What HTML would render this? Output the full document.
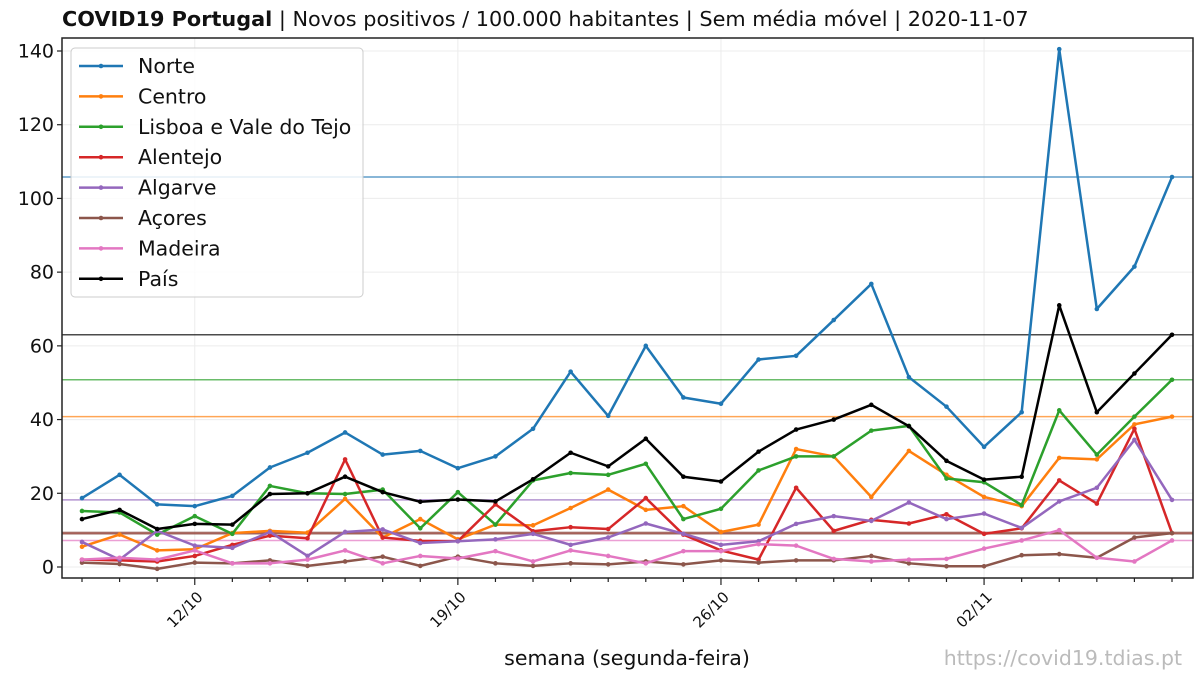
<!DOCTYPE html>
<html><head><meta charset="utf-8"><style>
body{margin:0;background:#fff}
svg{display:block;font-family:"DejaVu Sans","Liberation Sans",sans-serif}
</style></head><body>
<svg id="c" width="1200" height="675" xmlns="http://www.w3.org/2000/svg"></svg>
<script>
const dates=["09/10","10/10","11/10","12/10","13/10","14/10","15/10","16/10","17/10","18/10","19/10","20/10","21/10","22/10","23/10","24/10","25/10","26/10","27/10","28/10","29/10","30/10","31/10","01/11","02/11","03/11","04/11","05/11","06/11","07/11"];
const majorTicks=["12/10","19/10","26/10","02/11"];
const yTicks=[0,20,40,60,80,100,120,140];
const seriesNames=["Norte","Centro","Lisboa e Vale do Tejo","Alentejo","Algarve","Açores","Madeira","País"];
const seriesColors=["#1f77b4","#ff7f0e","#2ca02c","#d62728","#9467bd","#8c564b","#e377c2","#000000"];
const norte=[18.7,25,17,16.5,19.3,27,31,36.5,30.5,31.5,26.8,30,37.5,53,41,60,46,44.3,56.3,57.3,67,76.8,51.5,43.5,32.6,42,140.5,70,81.5,105.8];
const centro=[5.5,8.8,4.5,4.8,9.2,9.8,9.3,18.5,8,13,7.5,11.5,11.3,16,21,15.5,16.5,9.5,11.5,32,30,19,31.5,25,19,16.5,29.6,29.2,38.7,40.8];
const lvt=[15.2,14.8,8.8,13.8,9,22,20,19.8,21,10.5,20.3,11.5,23.5,25.5,25,28,13,15.8,26.2,30,30,37,38.3,24,23,16.8,42.5,30.5,40.8,50.8];
const alentejo=[2,1.8,1.5,3,6,8.5,7.8,29.2,8,7.1,7,17,9.7,10.8,10.3,18.7,8.8,4.5,2,21.5,9.8,12.8,11.8,14.3,9,10.5,23.5,17.2,37.5,9.2];
const algarve=[6.8,2,9.8,5.8,5.2,9.5,3,9.5,10.2,6.5,7,7.5,9,6,8,11.8,9,6,7,11.7,13.8,12.5,17.5,13,14.5,10.6,17.8,21.5,34.5,18.2];
const acores=[1.2,0.8,-0.5,1.2,1,1.8,0.3,1.5,2.8,0.3,2.8,1,0.3,1,0.7,1.5,0.7,1.8,1.2,1.8,1.8,3,1,0.2,0.2,3.2,3.5,2.5,8,9.2];
const madeira=[2,2.5,2,4.5,1,1,2,4.5,1,3,2.3,4.3,1.5,4.5,3,1,4.3,4.3,6.2,5.8,2.2,1.5,2,2.2,5,7.2,10,2.5,1.5,7.2];
const pais=[13,15.5,10.3,11.7,11.5,19.8,20,24.5,20.3,17.7,18.3,17.8,23.8,31,27.3,34.8,24.5,23.2,31.3,37.3,40,44,38.2,28.8,23.7,24.5,71,42,52.5,63];
const allSeries=[norte,centro,lvt,alentejo,algarve,acores,madeira,pais];

const svg=document.getElementById('c');const NS="http://www.w3.org/2000/svg";
const L=62,R=1193,T=38,B=578;
const x=i=>82+i*(1172-82)/(dates.length-1);
const y=v=>567-v*(567-51)/140;
function mk(t,a,p){const e=document.createElementNS(NS,t);for(const k in a)e.setAttribute(k,a[k]);(p||svg).appendChild(e);return e;}
yTicks.forEach(v=>{const g=mk('line',{x1:L,x2:R,y1:y(v),y2:y(v),stroke:'#ececec','stroke-width':1});

});
majorTicks.forEach(d=>{const i=dates.indexOf(d);const g=mk('line',{x1:x(i),x2:x(i),y1:T,y2:B,stroke:'#ececec','stroke-width':1});

});
allSeries.forEach((s,k)=>{const v=s[s.length-1];const l=mk('line',{x1:L,x2:R,y1:y(v),y2:y(v),stroke:seriesColors[k],'stroke-width':k==5?3:1.5,opacity:0.7});

});
allSeries.forEach((s,k)=>{const g=mk('g',{});


mk('polyline',{points:s.map((v,i)=>x(i)+','+y(v)).join(' '),fill:'none',stroke:seriesColors[k],'stroke-width':2.5,'stroke-linejoin':'round'},g);
s.forEach((v,i)=>{const c=mk('circle',{cx:x(i),cy:y(v),r:2.3,fill:seriesColors[k]},g);

});});
const fr=mk('rect',{x:L,y:T,width:R-L,height:B-T,fill:'none',stroke:'#222','stroke-width':1.5});


yTicks.forEach(v=>{mk('line',{x1:L-5,x2:L,y1:y(v),y2:y(v),stroke:'#222','stroke-width':1.2});
const t=mk('text',{x:L-8,y:y(v)+6.5,'text-anchor':'end','font-size':19,fill:'#111'});t.textContent=v;

});
dates.forEach((d,i)=>{const maj=majorTicks.includes(d);mk('line',{x1:x(i),x2:x(i),y1:B,y2:B+(maj?7:4),stroke:'#222','stroke-width':1.2});
if(maj){const ax=x(i)+9,ay=B+20;const t=mk('text',{x:ax,y:ay,'text-anchor':'end','font-size':15,fill:'#111',transform:`rotate(-45 ${ax} ${ay})`});t.textContent=d;

}});
let t=mk('text',{x:627,y:665,'text-anchor':'middle','font-size':20.5,fill:'#111'});t.textContent='semana (segunda-feira)';


t=mk('text',{x:1182,y:665,'text-anchor':'end','font-size':20.5,fill:'#bbb'});t.textContent='https://covid19.tdias.pt';


t=mk('text',{x:62,y:26,'font-size':20.8,fill:'#111'});


const b=mk('tspan',{'font-weight':'bold'},t);b.textContent='COVID19 Portugal';
const r=mk('tspan',{},t);r.textContent=' | Novos positivos / 100.000 habitantes | Sem média móvel | 2020-11-07';
const lg=mk('g',{});


mk('rect',{x:71,y:48,width:292,height:249,rx:4,fill:'#fff','fill-opacity':0.85,stroke:'#ccc','stroke-width':1},lg);
seriesNames.forEach((n,k)=>{const yy=66+k*30.4;const e=mk('g',{},lg);


mk('line',{x1:79,x2:123,y1:yy,y2:yy,stroke:seriesColors[k],'stroke-width':2.5},e);
mk('circle',{cx:101,cy:yy,r:2.3,fill:seriesColors[k]},e);
const tt=mk('text',{x:138,y:yy+7,'font-size':20.5,fill:'#111'},e);tt.textContent=n;});
</script>
</body></html>
